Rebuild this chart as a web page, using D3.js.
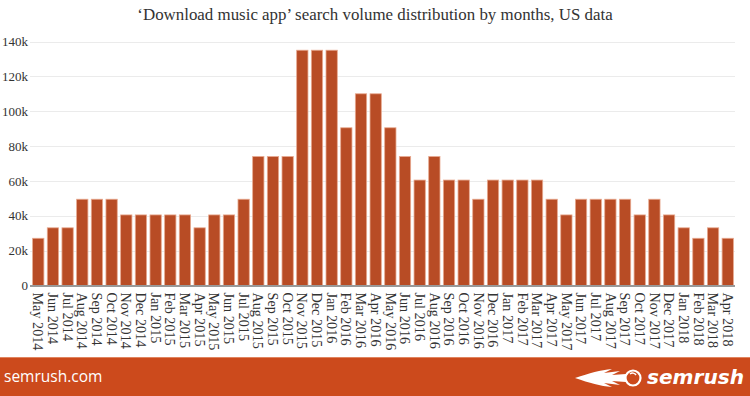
<!DOCTYPE html>
<html><head><meta charset="utf-8">
<script src="https://cdn.jsdelivr.net/npm/d3@7"></script>
<style>html,body{margin:0;padding:0;background:#fff;}svg{display:block;}</style>
</head><body>
<svg id="c" width="750" height="396"></svg>
<script>
const months = ["May 2014","Jun 2014","Jul 2014","Aug 2014","Sep 2014","Oct 2014","Nov 2014","Dec 2014",
"Jan 2015","Feb 2015","Mar 2015","Apr 2015","May 2015","Jun 2015","Jul 2015","Aug 2015","Sep 2015","Oct 2015","Nov 2015","Dec 2015",
"Jan 2016","Feb 2016","Mar 2016","Apr 2016","May 2016","Jun 2016","Jul 2016","Aug 2016","Sep 2016","Oct 2016","Nov 2016","Dec 2016",
"Jan 2017","Feb 2017","Mar 2017","Apr 2017","May 2017","Jun 2017","Jul 2017","Aug 2017","Sep 2017","Oct 2017","Nov 2017","Dec 2017",
"Jan 2018","Feb 2018","Mar 2018","Apr 2018"];
const volumes = [27100,33100,33100,49500,49500,49500,40500,40500,
40500,40500,40500,33100,40500,40500,49500,74000,74000,74000,135000,135000,
135000,90500,110000,110000,90500,74000,60500,74000,60500,60500,49500,60500,
60500,60500,60500,49500,40500,49500,49500,49500,49500,40500,49500,40500,
33100,27100,33100,27100];
const yTicks = [0,20000,40000,60000,80000,100000,120000,140000];
const yTickLabels = ["0","20k","40k","60k","80k","100k","120k","140k"];
const chartTitle = "\u2018Download music app\u2019 search volume distribution by months, US data";

const svg = d3.select("#c");
const pL = 31, pR = 735, pT = 41.5, pB = 285.5;
const x = d3.scaleBand().domain(months).range([pL, pR]).paddingInner(0.23).paddingOuter(0.11);
const y = d3.scaleLinear().domain([0,140000]).range([pB, pT]);

svg.append("text").attr("x", 375).attr("y", 20).attr("text-anchor","middle")
  .attr("font-family","Liberation Serif, serif").attr("font-size",16.9).attr("fill","#333").text(chartTitle);

// grid
svg.append("g").selectAll("line").data(yTicks.slice(1)).join("line")
  .attr("x1", pL-1).attr("x2", pR).attr("y1", d=>Math.round(y(d))+0.5).attr("y2", d=>Math.round(y(d))+0.5)
  .attr("stroke","#ebebeb").attr("stroke-width",1);

// y axis labels
const yAxis = d3.axisLeft(y).tickValues(yTicks).tickFormat((d,i)=>yTickLabels[i]).tickSize(0).tickPadding(0);
const gy = svg.append("g").attr("transform",`translate(28,0)`).call(yAxis);
gy.select(".domain").remove();
gy.selectAll("text").attr("font-family","Liberation Serif, serif").attr("font-size",13).attr("fill","#333").attr("dy","0.32em");

// bars
svg.append("g").selectAll("rect").data(volumes).join("rect")
  .attr("x",(d,i)=>x(months[i])).attr("width",x.bandwidth())
  .attr("y",d=>y(d)).attr("height",d=>y(0)-y(d))
  .attr("fill","#b84c25").attr("stroke","#e8a98f").attr("stroke-width",0.8);

// baseline
svg.append("line").attr("x1",pL-1).attr("x2",pR).attr("y1",pB+0.5).attr("y2",pB+0.5)
  .attr("stroke","#999").attr("stroke-width",2);

// x axis labels
const xAxis = d3.axisBottom(x).tickSize(0).tickPadding(0);
const gx = svg.append("g").attr("transform",`translate(0,${pB+7})`).call(xAxis);
gx.select(".domain").remove();
gx.selectAll("text").attr("font-family","Liberation Serif, serif").attr("font-size",14.2).attr("fill","#333")
  .attr("text-anchor","start").attr("transform","rotate(90)").attr("x",0).attr("y",0).attr("dx",0).attr("dy","0.34em");

// footer
svg.append("rect").attr("x",0).attr("y",357).attr("width",750).attr("height",39).attr("fill","#cc4a1c");
svg.append("line").attr("x1",0).attr("x2",750).attr("y1",357.5).attr("y2",357.5).attr("stroke","#e0845f").attr("stroke-width",1);
svg.append("text").attr("x",4).attr("y",382).attr("font-family","Open Sans, sans-serif").attr("font-size",15.5)
  .attr("fill","#fff").text("semrush.com");

// logo
const lg = svg.append("g").attr("fill","#fff");
lg.append("path").attr("d","M575,378 C590,373 600,370 612,369 L604,373 L620,371 L612,375 L626,374 L626,382 L612,381 L620,385 L604,383 L612,387 C600,386 590,383 575,378 Z");
lg.append("circle").attr("cx",633).attr("cy",378).attr("r",7.5).attr("fill","none").attr("stroke","#fff").attr("stroke-width",2.2);
lg.append("path").attr("d","M630,374 a4,4 0 0 1 6,1").attr("fill","none").attr("stroke","#fff").attr("stroke-width",1.5);
lg.append("text").attr("x",647).attr("y",384).attr("font-family","DejaVu Sans, sans-serif").attr("font-weight","bold")
  .attr("font-style","italic").attr("font-size",19).attr("textLength",97).attr("lengthAdjust","spacingAndGlyphs").text("semrush");
</script>
</body></html>
